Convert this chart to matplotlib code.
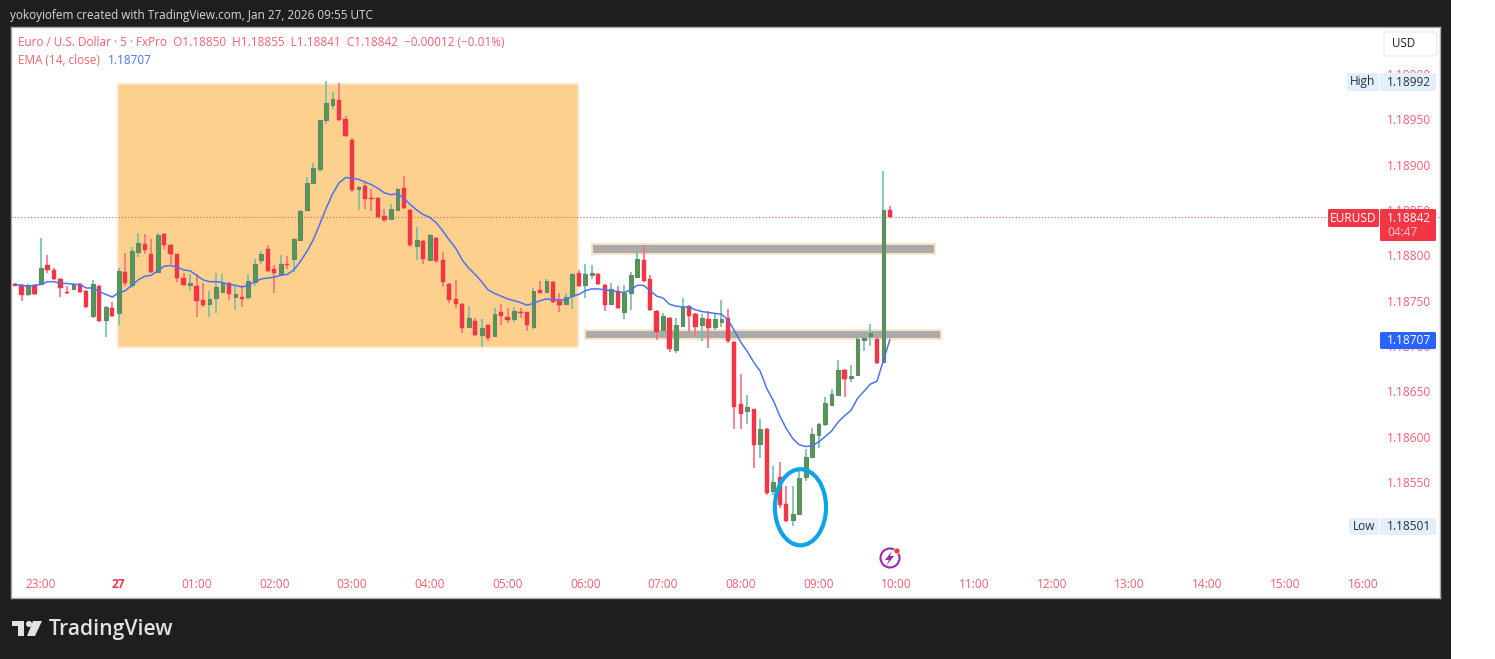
#!/usr/bin/env python3
"""
EURUSD 5 minute chart in TradingView style, with a supply/demand zone and an EMA.
"""

import numpy as np
import matplotlib
matplotlib.use('Agg')
import matplotlib.pyplot as plt
from matplotlib.patches import Rectangle, Ellipse, Circle, Polygon, FancyBboxPatch

plt.rcParams['font.family'] = ['Open Sans', 'DejaVu Sans']

# All prices are points above 1.18000, so 768 means 1.18768
BASE = 1.18
POINT = 0.00001

# First bar is 22:40, one bar every 5 minutes
first_bar = -4

opens = [
    768, 767, 757, 767,
    768, 789, 784, 774, 760, 763, 768, 761, 733, 766,
    729, 742, 736, 782, 767, 804, 813, 801, 782, 824,
    812, 801, 775, 767, 766, 751, 746, 753, 760, 769,
    754, 754, 754, 771, 795, 807, 785, 780, 791, 796,
    817, 850, 880, 895, 949, 966, 972, 951, 927, 873,
    877, 863, 863, 843, 840, 850, 874, 850, 810, 816,
    795, 819, 795, 768, 752, 746, 721, 728, 712, 723,
    711, 737, 732, 730, 738, 737, 721, 762, 760, 771,
    750, 746, 755, 781, 767, 778, 780, 767, 746, 761,
    737, 759, 776, 795, 774, 739, 718, 731, 696, 722,
    744, 735, 723, 730, 721, 726, 731, 704, 636, 628,
    630, 592, 608, 540, 555, 526, 508, 515, 555, 578,
    602, 614, 635, 646, 674, 665, 668, 707, 711, 708,
    682, 850,
]
highs = [
    769, 768, 768, 768,
    819, 800, 786, 775, 766, 769, 769, 762, 773, 767,
    744, 749, 786, 803, 809, 825, 824, 818, 825, 825,
    813, 802, 781, 779, 779, 770, 761, 781, 780, 771,
    766, 767, 779, 796, 805, 812, 789, 800, 799, 819,
    850, 886, 902, 950, 992, 980, 990, 954, 930, 877,
    880, 873, 864, 851, 857, 874, 888, 851, 831, 817,
    824, 820, 804, 769, 773, 747, 744, 731, 730, 724,
    742, 746, 742, 743, 742, 738, 764, 772, 774, 772,
    758, 759, 781, 784, 790, 789, 781, 768, 769, 766,
    767, 782, 804, 812, 778, 740, 736, 732, 731, 753,
    745, 736, 735, 739, 735, 751, 741, 705, 669, 646,
    631, 619, 609, 568, 572, 545, 546, 563, 586, 610,
    615, 644, 653, 684, 675, 679, 711, 714, 724, 709,
    893, 855,
]
lows = [
    766, 750, 755, 756,
    767, 781, 773, 754, 757, 763, 759, 742, 731, 727,
    710, 732, 723, 766, 764, 798, 802, 781, 781, 807,
    790, 771, 766, 761, 732, 743, 732, 736, 759, 751,
    740, 743, 751, 766, 790, 782, 759, 779, 785, 782,
    816, 849, 879, 892, 945, 962, 948, 931, 870, 850,
    851, 849, 841, 837, 839, 849, 851, 809, 795, 790,
    794, 792, 765, 747, 742, 714, 720, 711, 699, 705,
    710, 723, 725, 727, 731, 717, 719, 758, 759, 748,
    737, 745, 741, 765, 753, 774, 767, 739, 745, 741,
    730, 740, 775, 771, 739, 707, 712, 693, 692, 721,
    716, 711, 706, 698, 718, 721, 703, 608, 608, 614,
    565, 576, 535, 535, 521, 506, 501, 514, 551, 577,
    587, 612, 634, 645, 644, 660, 667, 695, 700, 680,
    681, 841,
]
closes = [
    766, 756, 767, 757,
    786, 784, 774, 764, 759, 768, 760, 743, 768, 728,
    743, 733, 783, 769, 805, 814, 806, 782, 823, 811,
    802, 775, 767, 769, 750, 745, 752, 765, 769, 757,
    757, 752, 772, 790, 801, 783, 781, 790, 789, 818,
    849, 880, 897, 949, 968, 973, 949, 932, 872, 875,
    862, 862, 842, 839, 851, 873, 852, 811, 817, 796,
    822, 794, 771, 751, 746, 720, 731, 712, 720, 709,
    735, 733, 729, 739, 736, 723, 761, 759, 772, 749,
    745, 754, 780, 766, 779, 781, 768, 745, 763, 742,
    758, 778, 796, 772, 740, 716, 733, 697, 723, 743,
    733, 721, 731, 720, 730, 730, 705, 633, 625, 633,
    591, 608, 538, 550, 525, 507, 515, 554, 578, 603,
    614, 637, 647, 674, 664, 667, 708, 709, 714, 681,
    850, 842,
]
ema = [
    768, 767, 766, 767,
    768, 771, 771, 769, 769, 768, 768, 764, 764, 760,
    757, 754, 759, 761, 767, 773, 777, 778, 783, 788,
    789, 787, 784, 783, 778, 773, 771, 771, 770, 768,
    767, 765, 767, 771, 774, 775, 776, 778, 779, 784,
    793, 804, 817, 834, 852, 868, 880, 886, 885, 884,
    881, 878, 874, 869, 867, 868, 863, 856, 850, 845,
    842, 836, 827, 817, 808, 795, 786, 779, 771, 762,
    758, 755, 752, 750, 748, 745, 747, 750, 752, 751,
    751, 751, 755, 757, 761, 763, 763, 762, 761, 760,
    759, 762, 767, 767, 761, 755, 753, 746, 744, 743,
    743, 740, 738, 737, 736, 735, 729, 717, 704, 694,
    682, 672, 653, 640, 623, 609, 598, 591, 589, 590,
    594, 600, 606, 616, 623, 629, 642, 650, 658, 661,
    684, 707,
]

time_labels = ['23:00', '27', '01:00', '02:00', '03:00', '04:00', '05:00', '06:00',
               '07:00', '08:00', '09:00', '10:00', '11:00', '12:00', '13:00',
               '14:00', '15:00', '16:00']
price_ticks = [1.19000, 1.18950, 1.18900, 1.18850, 1.18800, 1.18750, 1.18700,
               1.18650, 1.18600, 1.18550]

last_price = 1.18842
session_box = (11.9, 82.9, 1.18699, 1.18989)   # bar from, bar to, price low, price high
upper_band = (85, 138, 1.18802, 1.18813)
lower_band = (84, 138.9, 1.18708, 1.18718)
marked_bars = (117.2, 1.18522, 7.9, 0.00084)   # bar, price, bars wide, price tall

# Colours
DARK = '#1E1E1E'
RED = '#F23645'
LABEL_RED = '#F8606E'
GREEN_BODY = '#47A04C'
GREEN_EDGE = '#6E7F70'
GREEN_WICK = '#6FC0AA'
RED_WICK = '#F8707E'
EMA_BLUE = '#4C74EE'
PALE_BLUE = '#E3EFFD'

# Pixel geometry of the picture
WIDTH, HEIGHT = 1495, 659
CHART_L, CHART_R, CHART_T, CHART_B = 11, 1440, 27, 598
PX_PER_BAR = 6.48
PX_BAR_ZERO = 41
PX_PER_PRICE = 90600
PX_PRICE_REF = 119.5    # y pixel of 1.18950


def to_price(values):
    return BASE + np.array(values) * POINT


def plot_candles(ax, bars):
    """Wicks first, then bodies, split by direction."""
    o, h, l, c = to_price(opens), to_price(highs), to_price(lows), to_price(closes)
    up = c >= o
    ax.vlines(bars[up], l[up], h[up], color=GREEN_WICK, linewidth=1.2, zorder=3)
    ax.vlines(bars[~up], l[~up], h[~up], color=RED_WICK, linewidth=1.2, zorder=3)
    ax.bar(bars[up], c[up] - o[up], 0.58, bottom=o[up], color=GREEN_BODY,
           edgecolor=GREEN_EDGE, linewidth=0.8, zorder=4)
    ax.bar(bars[~up], o[~up] - c[~up], 0.66, bottom=c[~up], color=RED,
           edgecolor=RED, linewidth=0.3, zorder=4)


def plot_zones(ax):
    x0, x1, y0, y1 = session_box
    ax.add_patch(Rectangle((x0, y0), x1 - x0, y1 - y0, facecolor='#FED08E',
                           edgecolor='#FFE3C4', linewidth=1.2, zorder=1))
    for x0, x1, y0, y1 in (upper_band, lower_band):
        ax.add_patch(Rectangle((x0, y0), x1 - x0, y1 - y0, facecolor='#ABABAB',
                               edgecolor='#FFE3C4', linewidth=1.4, zorder=2))
    x, y, w, h = marked_bars
    ax.add_patch(Ellipse((x, y), w, h, fill=False, edgecolor='#0AA5E6',
                         linewidth=3.0, zorder=7))


def draw_value_box(ov, x0, x1, y0, y1, color, text, text_color, ty=None):
    ov.add_patch(FancyBboxPatch((x0 + 1, y0 + 1), x1 - x0 - 2, y1 - y0 - 2,
                                boxstyle='round,pad=1,rounding_size=1.5',
                                facecolor=color, edgecolor='none', zorder=3))
    ov.text(x1 - 5 if x1 > 1400 else (x0 + x1) / 2, (y0 + y1) / 2 if ty is None else ty, text,
            color=text_color, fontsize=8.6, va='center',
            ha='right' if x1 > 1400 else 'center', zorder=4)


def draw_chrome(ov):
    # Header and footer of the snapshot
    ov.text(10, 15, 'yokoyiofem created with TradingView.com, Jan 27, 2026 09:55 UTC',
            color='#D8D8D8', fontsize=8.5, va='center')
    ov.text(49, 629, 'TradingView', color='#E2E2E2', fontsize=15.2, va='center',
            fontweight='semibold')
    ov.add_patch(Polygon([(12, 621), (24, 621), (24, 636), (18, 636), (18, 626), (12, 626)],
                         facecolor='#E2E2E2', edgecolor='none'))
    ov.add_patch(Circle((29, 624), 3, facecolor='#E2E2E2', edgecolor='none'))
    ov.add_patch(Polygon([(33, 621), (42, 621), (35, 636), (27, 636)],
                         facecolor='#E2E2E2', edgecolor='none'))

    # Legend in the top left corner
    ov.text(18, 43, 'Euro / U.S. Dollar · 5 · FxPro  O1.18850  H1.18855  L1.18841  '
            'C1.18842  −0.00012 (−0.01%)', color=LABEL_RED, fontsize=8.5, va='center')
    ov.text(18, 60, 'EMA (14, close)', color=LABEL_RED, fontsize=8.5, va='center')
    ov.text(108, 60, '1.18707', color=EMA_BLUE, fontsize=8.5, va='center')

    # Currency button
    ov.add_patch(FancyBboxPatch((1385, 33), 51, 22, boxstyle='round,pad=1,rounding_size=3',
                                facecolor='white', edgecolor='#EDEDED', linewidth=1, zorder=3))
    ov.text(1392, 43.5, 'USD', color='#222222', fontsize=8.4, va='center', zorder=4)

    # Price scale labels
    draw_value_box(ov, 1347, 1379, 73, 91, PALE_BLUE, 'High', '#2A2E39')
    draw_value_box(ov, 1380, 1436, 73, 91, PALE_BLUE, '1.18992', '#2A2E39')
    draw_value_box(ov, 1349, 1379, 518, 535, PALE_BLUE, 'Low', '#2A2E39')
    draw_value_box(ov, 1380, 1436, 518, 535, PALE_BLUE, '1.18501', '#2A2E39')
    draw_value_box(ov, 1328, 1379, 209, 227, RED, 'EURUSD', 'white')
    draw_value_box(ov, 1380, 1436, 209, 241, RED, '1.18842', 'white', ty=218)
    ov.text(1387, 232, '04:47', color='#FFC4CA', fontsize=8.6, va='center', zorder=4)
    draw_value_box(ov, 1380, 1436, 332, 349, '#2962FF', '1.18707', 'white')

    # Lightning badge under the last bar
    ov.add_patch(Circle((890, 558), 9.5, fill=False, edgecolor='#9C27B0', linewidth=1.5))
    ov.add_patch(Polygon([(892, 551), (885, 560), (889, 560), (886, 566), (894, 556), (890, 556)],
                         facecolor='#9C27B0', edgecolor='none'))
    ov.add_patch(Circle((897, 551), 3, facecolor=RED, edgecolor='white', linewidth=0.6))


def main():
    fig = plt.figure(figsize=(WIDTH / 100, HEIGHT / 100), dpi=100, facecolor='white')

    # Dark frame behind everything, the picture ends in white on the right
    back = fig.add_axes([0, 0, 1, 1], zorder=0)
    back.set_xlim(0, WIDTH)
    back.set_ylim(HEIGHT, 0)
    back.axis('off')
    back.add_patch(Rectangle((0, 0), 1451, HEIGHT, facecolor=DARK, edgecolor='none'))

    # Chart panel
    ax = fig.add_axes([CHART_L / WIDTH, 1 - CHART_B / HEIGHT,
                       (CHART_R - CHART_L) / WIDTH, (CHART_B - CHART_T) / HEIGHT], zorder=1)
    ax.set_xlim((CHART_L - PX_BAR_ZERO) / PX_PER_BAR, (CHART_R - PX_BAR_ZERO) / PX_PER_BAR)
    ax.set_ylim(1.1895 - (CHART_B - PX_PRICE_REF) / PX_PER_PRICE,
                1.1895 + (PX_PRICE_REF - CHART_T) / PX_PER_PRICE)
    for spine in ax.spines.values():
        spine.set_color('#A8A8A8')
        spine.set_linewidth(1.0)

    bars = np.arange(first_bar, first_bar + len(opens))

    plot_zones(ax)
    plot_candles(ax, bars)
    ax.plot(bars, to_price(ema), color=EMA_BLUE, linewidth=1.1, zorder=5)
    ax.axhline(last_price, color=RED_WICK, linewidth=0.9, linestyle=(0, (1, 1.6)), zorder=2.5)

    # Axis labels sit inside the panel
    ax.set_xticks(np.arange(len(time_labels)) * 12)
    ax.set_xticklabels(time_labels, color=LABEL_RED, fontsize=8.6)
    ax.get_xticklabels()[1].set_fontweight('bold')
    ax.get_xticklabels()[1].set_color(RED)
    ax.tick_params(axis='x', length=0, pad=-14.2)

    ax.yaxis.tick_right()
    ax.set_yticks(price_ticks)
    ax.set_yticklabels([f'{p:.5f}' for p in price_ticks], color=LABEL_RED, fontsize=8.6)
    ax.tick_params(axis='y', length=0, pad=-6.5)
    for label in ax.get_yticklabels():
        label.set_ha('right')

    # Overlay in picture pixels for the labels and badges
    ov = fig.add_axes([0, 0, 1, 1], zorder=2)
    ov.set_xlim(0, WIDTH)
    ov.set_ylim(HEIGHT, 0)
    ov.axis('off')
    ov.patch.set_alpha(0)
    draw_chrome(ov)

    fig.savefig('out.png', dpi=100)
    plt.close(fig)


if __name__ == "__main__":
    main()
